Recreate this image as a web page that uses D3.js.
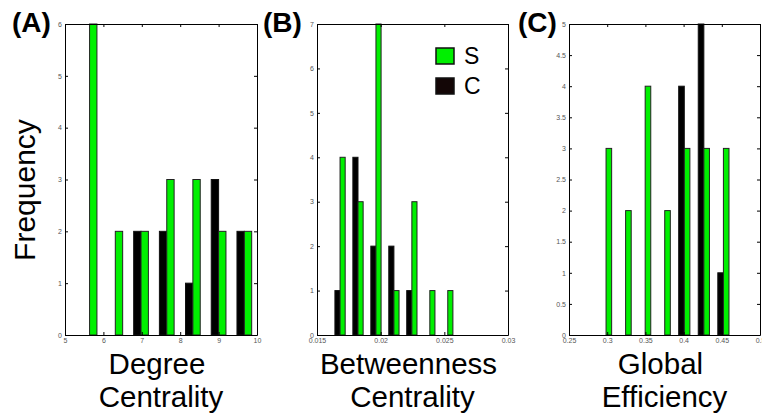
<!DOCTYPE html>
<html>
<head>
<meta charset="utf-8">
<script src="https://cdn.jsdelivr.net/npm/d3@7"></script>
<style>
  html, body { margin: 0; padding: 0; background: #fff; }
  svg { display: block; }
  .tick text { font-family: "Liberation Sans", Arial, sans-serif; font-size: 7px; fill: #555; }
  .tick line { stroke: #000; }
  .domain { stroke: #000; }
</style>
</head>
<body>
<svg id="chart" width="762" height="417"></svg>
<script>
// Histogram bin centres and counts for the S and C groups
const degreeBins = [5.64, 6.31, 6.98, 7.65, 8.33, 9.00, 9.67];
const degreeS = [6, 2, 2, 3, 3, 2, 2];
const degreeC = [0, 0, 2, 2, 1, 3, 2];

const betweenBins = [0.01681, 0.01822, 0.01963, 0.02104, 0.02245, 0.02386, 0.02527];
const betweenS = [4, 3, 7, 1, 3, 1, 1];
const betweenC = [1, 4, 2, 2, 1, 0, 0];

const efficiencyBins = [0.2985, 0.3241, 0.3497, 0.3753, 0.4009, 0.4265, 0.4521];
const efficiencyS = [3, 2, 4, 2, 3, 3, 3];
const efficiencyC = [0, 0, 0, 0, 4, 5, 1];

// Axis ticks
const degreeXTicks = [5, 6, 7, 8, 9, 10];
const degreeYTicks = [0, 1, 2, 3, 4, 5, 6];
const betweenXTicks = [0.015, 0.02, 0.025, 0.03];
const betweenYTicks = [0, 1, 2, 3, 4, 5, 6, 7];
const efficiencyXTicks = [0.25, 0.3, 0.35, 0.4, 0.45, 0.5];
const efficiencyYTicks = [0, 0.5, 1, 1.5, 2, 2.5, 3, 3.5, 4, 4.5, 5];

const panelLabels = ["(A)", "(B)", "(C)"];
const xTitles = [["Degree", "Centrality"], ["Betweenness", "Centrality"], ["Global", "Efficiency"]];
const yTitle = "Frequency";
const seriesNames = ["S", "C"];

const colorS = "#00f000";
const colorC = "#000000";
const FONT = '"Liberation Sans", Arial, sans-serif';

const svg = d3.select("#chart");

const panels = [
  { bins: degreeBins, s: degreeS, c: degreeC, xDomain: [5, 10], yDomain: [0, 6],
    xTicks: degreeXTicks, yTicks: degreeYTicks, left: 65, right: 257, labelX: 12, title: xTitles[0] },
  { bins: betweenBins, s: betweenS, c: betweenC, xDomain: [0.015, 0.03], yDomain: [0, 7],
    xTicks: betweenXTicks, yTicks: betweenYTicks, left: 317, right: 508, labelX: 263, title: xTitles[1] },
  { bins: efficiencyBins, s: efficiencyS, c: efficiencyC, xDomain: [0.25, 0.5], yDomain: [0, 5],
    xTicks: efficiencyXTicks, yTicks: efficiencyYTicks, left: 569, right: 760, labelX: 518, title: xTitles[2] }
];

const plotTop = 24, plotBottom = 335;

panels.forEach((p, i) => {
  const x = d3.scaleLinear().domain(p.xDomain).range([p.left, p.right]);
  const y = d3.scaleLinear().domain(p.yDomain).range([plotBottom, plotTop]);
  const g = svg.append("g");

  const step = p.bins[1] - p.bins[0];
  const w = step * 0.286;

  // C bars (left of bin centre)
  g.selectAll("rect.c").data(p.bins.map((b, k) => ({ b, v: p.c[k] })).filter(d => d.v > 0))
    .join("rect").attr("class", "c")
    .attr("x", d => x(d.b - w))
    .attr("width", d => x(d.b) - x(d.b - w))
    .attr("y", d => y(d.v))
    .attr("height", d => y(0) - y(d.v))
    .attr("fill", colorC)
    .attr("stroke", "#111").attr("stroke-width", 1);

  // S bars (right of bin centre)
  g.selectAll("rect.s").data(p.bins.map((b, k) => ({ b, v: p.s[k] })).filter(d => d.v > 0))
    .join("rect").attr("class", "s")
    .attr("x", d => x(d.b))
    .attr("width", d => x(d.b + w) - x(d.b))
    .attr("y", d => y(d.v))
    .attr("height", d => y(0) - y(d.v))
    .attr("fill", colorS)
    .attr("stroke", "#222").attr("stroke-width", 1);

  const fmt = d => String(d);

  // Box axes with inward ticks on all four sides
  g.append("g").attr("transform", `translate(0,${plotBottom})`)
    .call(d3.axisBottom(x).tickValues(p.xTicks).tickFormat(fmt).tickSizeInner(-3).tickSizeOuter(0).tickPadding(3));
  g.append("g").attr("transform", `translate(0,${plotTop})`)
    .call(d3.axisTop(x).tickValues(p.xTicks).tickFormat("").tickSizeInner(-3).tickSizeOuter(0));
  g.append("g").attr("transform", `translate(${p.left},0)`)
    .call(d3.axisLeft(y).tickValues(p.yTicks).tickFormat(fmt).tickSizeInner(-3).tickSizeOuter(0).tickPadding(3));
  g.append("g").attr("transform", `translate(${p.right},0)`)
    .call(d3.axisRight(y).tickValues(p.yTicks).tickFormat("").tickSizeInner(-3).tickSizeOuter(0));

  g.selectAll(".tick text").attr("font-family", null).attr("font-size", null);

  // Panel letter
  svg.append("text").attr("x", p.labelX).attr("y", 32)
    .attr("font-family", FONT).attr("font-weight", "bold").attr("font-size", 28)
    .text(panelLabels[i]);

  // Two-line x-axis title (first line sits slightly left of the second)
  const cx = (p.left + p.right) / 2;
  p.title.forEach((line, j) => {
    svg.append("text").attr("x", cx + (j === 0 ? -4 : 0)).attr("y", 374 + j * 33)
      .attr("text-anchor", "middle")
      .attr("font-family", FONT).attr("font-size", 29.5)
      .text(line);
  });
});

// Shared y-axis title
svg.append("text")
  .attr("transform", "translate(35,190) rotate(-90)")
  .attr("text-anchor", "middle")
  .attr("font-family", FONT).attr("font-size", 30)
  .text(yTitle);

// Legend in panel B
const legend = svg.append("g");
const legendColors = [colorS, "#130606"];
seriesNames.forEach((name, k) => {
  const ly = 48 + k * 30;
  legend.append("rect").attr("x", 436).attr("y", ly).attr("width", 18).attr("height", 16)
    .attr("fill", legendColors[k]).attr("stroke", "#111").attr("stroke-width", 1.5);
  legend.append("text").attr("x", 464).attr("y", ly + 16)
    .attr("font-family", FONT).attr("font-size", 23)
    .text(name);
});
</script>
</body>
</html>
